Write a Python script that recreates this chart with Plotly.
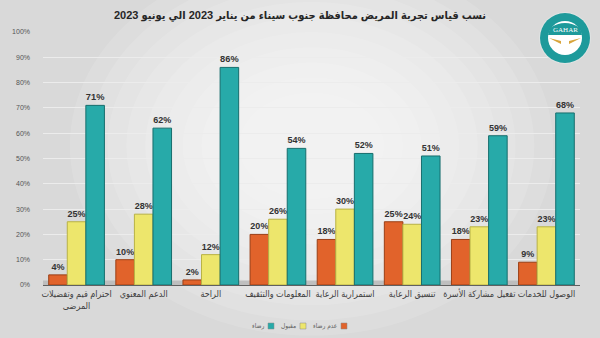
import plotly.graph_objects as go

categories = ["احترام قيم وتفضيلات<br>المرضى", "الدعم المعنوي", "الراحة", "المعلومات والتثقيف",
              "استمرارية الرعاية", "تنسيق الرعاية", "تفعيل مشاركة الأسرة", "الوصول للخدمات"]
dissatisfied = [4, 10, 2, 20, 18, 25, 18, 9]
acceptable = [25, 28, 12, 26, 30, 24, 23, 23]
satisfied = [71, 62, 86, 54, 52, 51, 59, 68]
series_names = ["عدم رضاء", "مقبول", "رضاء"]
title_text = "نسب قياس تجربة المريض محافظة جنوب سيناء من يناير 2023 الي يونيو 2023"
y_ticks = [0, 10, 20, 30, 40, 50, 60, 70, 80, 90, 100]

W, H = 600, 338
colors = ["#E1632B", "#EDE66C", "#27AAA9"]
edges = ["#9a3f16", "#b8b245", "#176e6d"]
FONT = "Liberation Sans, DejaVu Sans Condensed, DejaVu Sans"

fig = go.Figure()
for name, vals, c, e in zip(series_names, [dissatisfied, acceptable, satisfied], colors, edges):
    sizes = [17 if (name == series_names[2] and v in (71, 86)) else 9 for v in vals]
    fig.add_trace(go.Bar(
        x=categories, y=vals, name=name, showlegend=False,
        marker=dict(color=c, line=dict(color=e, width=1)),
        text=[f"{v}%" for v in vals], textposition="outside",
        textfont=dict(size=sizes, color="#333333", family="Liberation Sans, Arial", weight="bold"),
        cliponaxis=False,
    ))

shapes = []
# soft radial background
for i in range(10):
    shapes.append(dict(type="circle", xref="paper", yref="paper",
                       x0=0.05 + i * 0.035, x1=0.95 - i * 0.035,
                       y0=-0.2 + i * 0.06, y1=1.3 - i * 0.06,
                       fillcolor="white", opacity=0.12, line=dict(width=0), layer="below"))
# floor band
shapes.append(dict(type="rect", xref="paper", yref="y", x0=0.0, x1=0.98, y0=0, y1=1.8,
                   fillcolor="#b5b5b5", line=dict(width=0), layer="below", opacity=0.8))

# logo (paper coords from pixels)
ML, MR, MT, MB = 43, 20, 32, 53
PW, PH = W - ML - MR, H - MT - MB
def px(x):
    return (x - ML) / PW
def py(y):
    return (H - MB - y) / PH
lcx, lcy = 565, 38
def circ(rad, color):
    return dict(type="circle", xref="paper", yref="paper",
                x0=px(lcx - rad), x1=px(lcx + rad), y0=py(lcy + rad), y1=py(lcy - rad),
                fillcolor=color, line=dict(width=0), layer="above")
shapes.append(circ(26, "#dfe3e3"))
shapes.append(circ(25, "#1e9a9b"))
shapes.append(circ(17, "#ffffff"))
shapes.append(dict(type="path", xref="paper", yref="paper",
                   path=f"M {px(lcx-17)},{py(lcy-3)} L {px(lcx+17)},{py(lcy-3)} L {px(lcx+15)},{py(lcy-10)} "
                        f"Q {px(lcx)},{py(lcy-20)} {px(lcx-15)},{py(lcy-10)} Z",
                   fillcolor="#1e9a9b", line=dict(width=0), layer="above"))
for s in (-1, 1):
    shapes.append(dict(type="path", xref="paper", yref="paper",
                       path=f"M {px(lcx+s*16)},{py(lcy)} L {px(lcx+s*4)},{py(lcy+6)} L {px(lcx+s*4)},{py(lcy+3)} Z",
                       fillcolor="#d8a53c", line=dict(width=0), layer="above"))

annotations = [dict(text="GAHAR", x=px(lcx), y=py(lcy - 8), xref="paper", yref="paper",
                    xanchor="center", yanchor="middle",
                    showarrow=False, font=dict(size=7, color="white", family="Liberation Serif"))]

# custom RTL legend: text then square to its right
leg_y = 326
leg_items = [(series_names[2], colors[2], 268), (series_names[1], colors[1], 300),
             (series_names[0], colors[0], 341)]
for name, col, sx in leg_items:
    shapes.append(dict(type="rect", xref="paper", yref="paper",
                       x0=px(sx), x1=px(sx + 6), y0=py(leg_y + 3), y1=py(leg_y - 3),
                       fillcolor=col, line=dict(color="#888888", width=0.5)))
    annotations.append(dict(text=name, x=px(sx - 2), y=py(leg_y), xref="paper", yref="paper",
                            xanchor="right", yanchor="middle", showarrow=False,
                            font=dict(size=6.5, color="#606060", family=FONT)))

fig.update_layout(
    width=W, height=H,
    margin=dict(l=ML, r=MR, t=MT, b=MB),
    paper_bgcolor="#d9d9d9", plot_bgcolor="rgba(0,0,0,0)",
    title=dict(text=f"<b>{title_text}</b>", x=300 / W, xanchor="center", y=1 - 15 / H, yanchor="middle",
               font=dict(size=11, color="#262626", family=FONT)),
    barmode="group", bargap=0.17, bargroupgap=0,
    showlegend=False,
    xaxis=dict(tickfont=dict(size=9, color="#404040", family=FONT), showline=True,
               linecolor="#606060", linewidth=1, ticks="", fixedrange=True),
    yaxis=dict(range=[0, 100], tickvals=y_ticks, ticktext=[f"{v}%" for v in y_ticks],
               tickfont=dict(size=7, color="#555555", family=FONT),
               gridcolor="#ececec", gridwidth=1, zeroline=False, showline=False, ticklabelstandoff=12),
    shapes=shapes, annotations=annotations,
    font=dict(family=FONT),
)
fig.write_html("out.html")
